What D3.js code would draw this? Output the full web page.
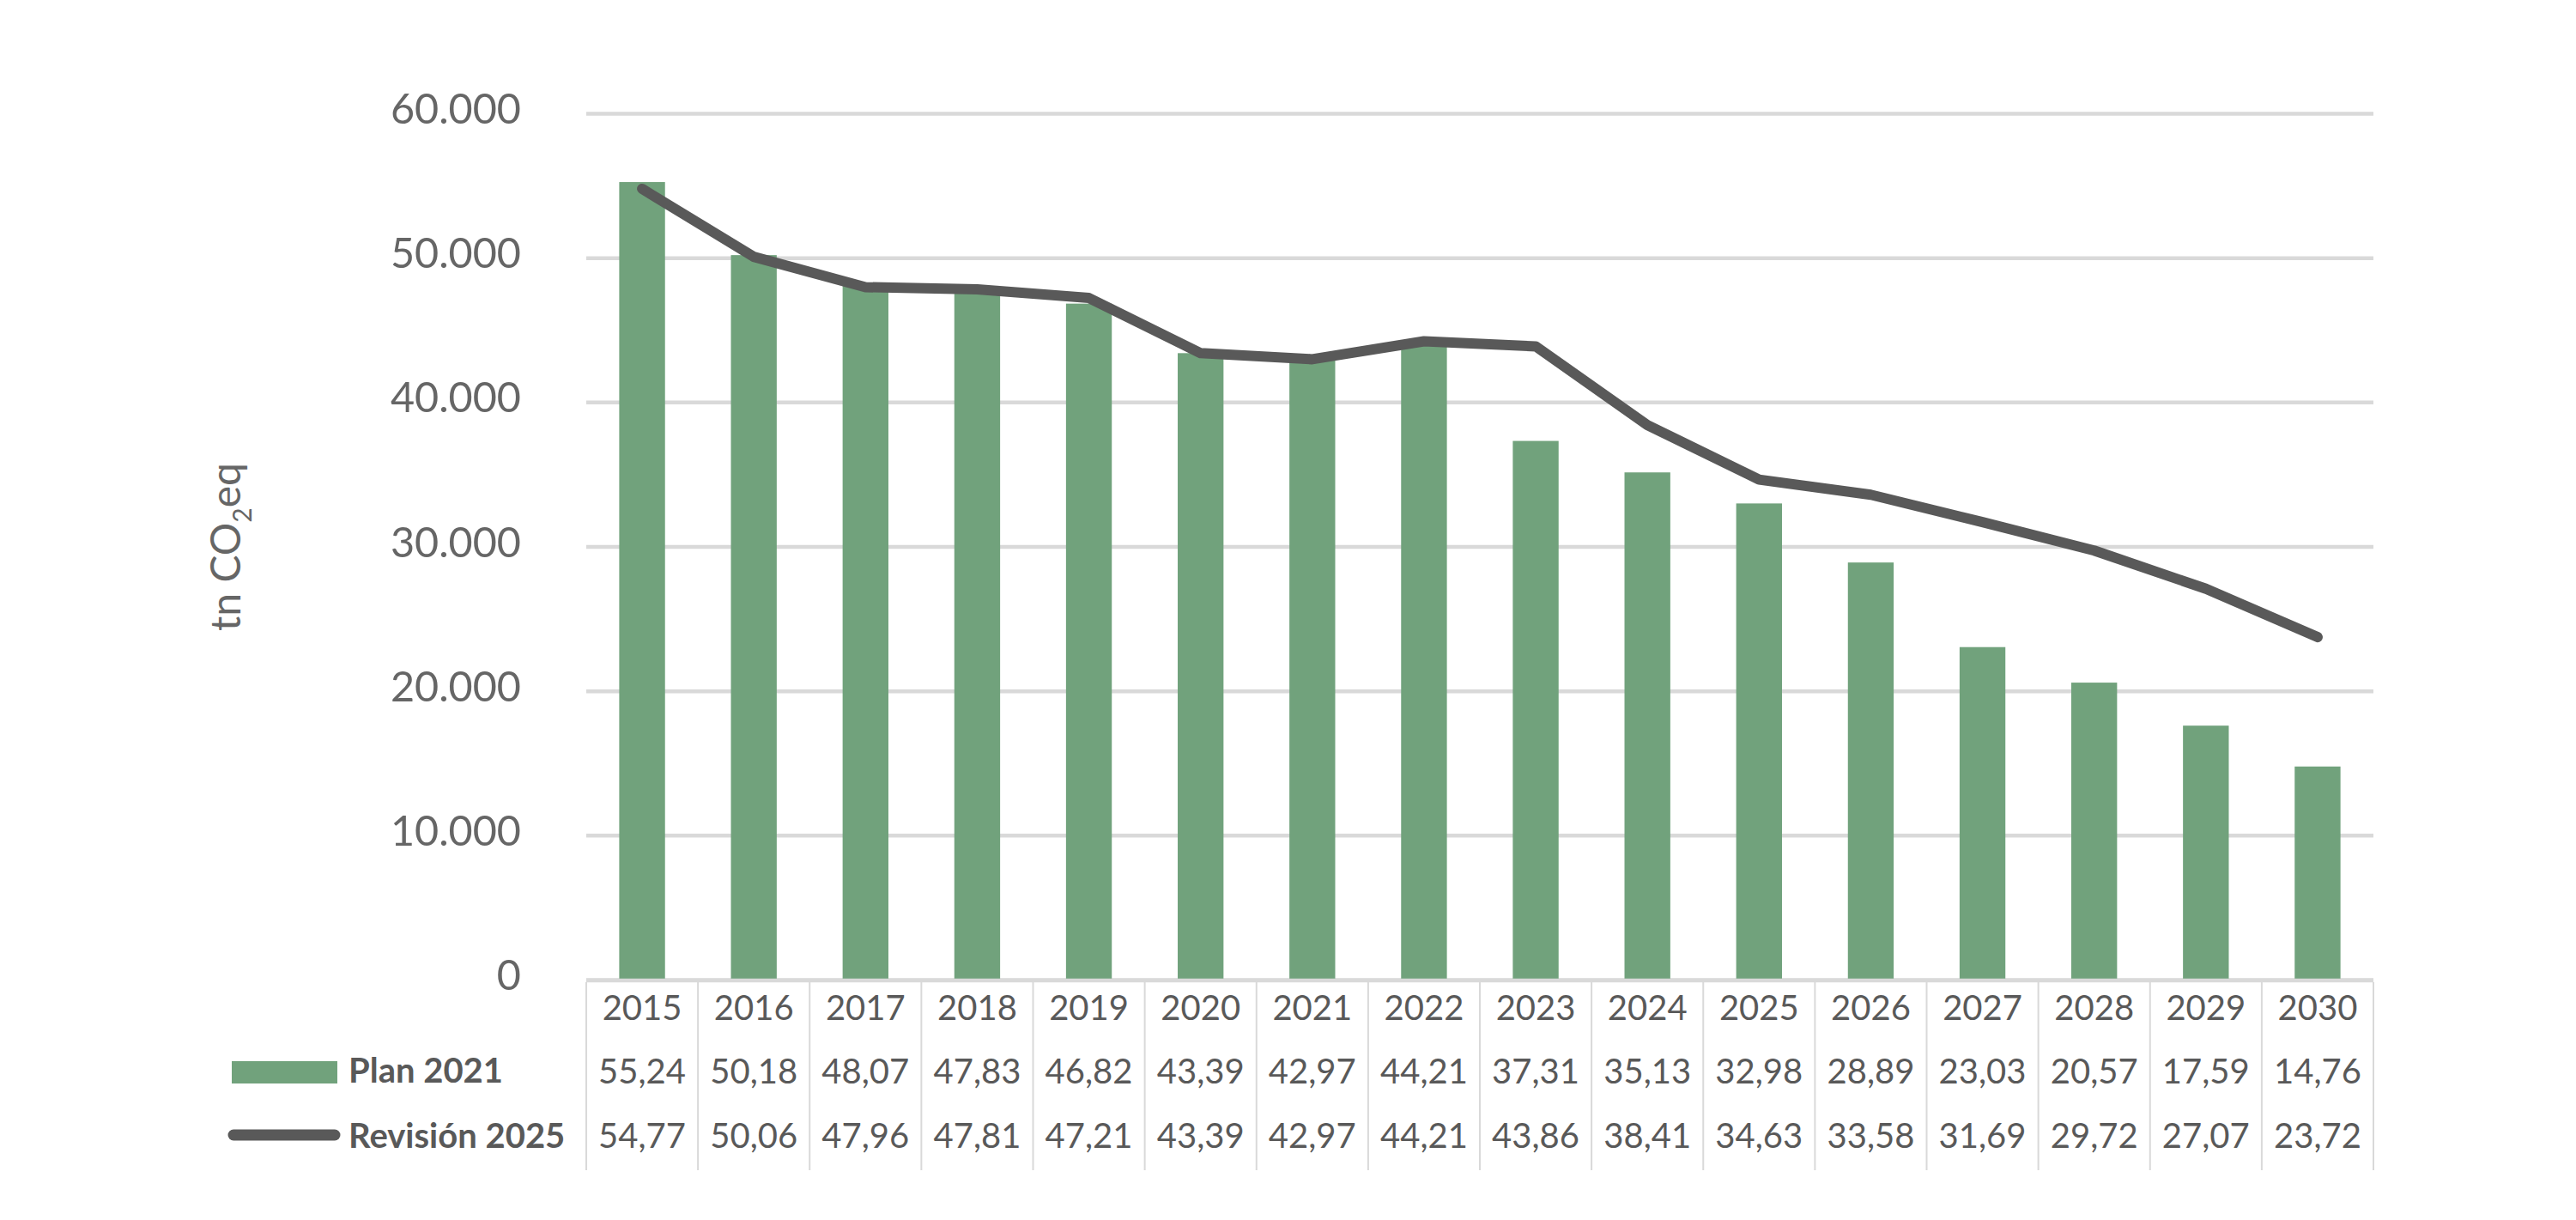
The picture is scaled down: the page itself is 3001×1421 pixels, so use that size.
<!DOCTYPE html>
<html>
<head>
<meta charset="utf-8">
<script src="https://cdn.jsdelivr.net/npm/d3@7"></script>
<style>
  body { margin: 0; background: #fff; }
  svg { display: block; font-family: Lato, "Open Sans", sans-serif; }
</style>
</head>
<body>
<div id="chart"></div>
<script>
// data (thousand tn CO2eq)
const years = ["2015","2016","2017","2018","2019","2020","2021","2022","2023","2024","2025","2026","2027","2028","2029","2030"];
const plan2021 = [55.24, 50.18, 48.07, 47.83, 46.82, 43.39, 42.97, 44.21, 37.31, 35.13, 32.98, 28.89, 23.03, 20.57, 17.59, 14.76];
const revision2025 = [54.77, 50.06, 47.96, 47.81, 47.21, 43.39, 42.97, 44.21, 43.86, 38.41, 34.63, 33.58, 31.69, 29.72, 27.07, 23.72];
const yTicks = [0, 10, 20, 30, 40, 50, 60];
const seriesNames = ["Plan 2021", "Revisión 2025"];

const width = 3001,
      height = 1421;
const plotLeft = 683, plotRight = 2765, plotTop = 132, plotZero = 1141;

const barColor = "#71a27c",
      lineColor = "#595959",
      gridColor = "#d9d9d9",
      textColor = "#595959";

const es = d3.formatLocale({decimal: ",", thousands: ".", grouping: [3], currency: ["", "€"]});
const fmtTick = es.format(",d");
const fmtVal = es.format(".2f");

const svg = d3.select("#chart")
  .append("svg")
    .attr("width", width)
    .attr("height", height)
    .attr("viewBox", `0 0 ${width} ${height}`);

// scales
const xCol = d3.scaleBand()
  .domain(years)
  .range([plotLeft, plotRight]);

const xBar = d3.scaleBand()
  .domain(years)
  .range([plotLeft, plotRight])
  .paddingInner(0.59)
  .paddingOuter(0.295);

const y = d3.scaleLinear()
  .domain([0, 60])
  .range([plotZero, plotTop]);

// y axis + gridlines
const yAxis = svg.append("g")
  .attr("transform", `translate(${plotLeft},0)`)
  .call(d3.axisLeft(y)
    .tickValues(yTicks)
    .tickSize(-(plotRight - plotLeft))
    .tickPadding(76)
    .tickFormat(d => fmtTick(d * 1000)));

yAxis.select(".domain").remove();
yAxis.selectAll(".tick line")
  .attr("stroke", gridColor)
  .attr("stroke-width", 4.5);
yAxis.selectAll(".tick text")
  .attr("fill", "#666")
  .attr("font-size", 48.5)
  .attr("font-family", "Lato, sans-serif")
  .attr("dy", "0.24em");

// bars
svg.append("g")
  .selectAll("rect")
  .data(plan2021)
  .join("rect")
    .attr("x", (d, i) => xBar(years[i]))
    .attr("width", xBar.bandwidth())
    .attr("y", d => y(d))
    .attr("height", d => y(0) - y(d))
    .attr("fill", barColor);

// axis line over bar bottoms
svg.append("line")
  .attr("x1", plotLeft).attr("x2", plotRight)
  .attr("y1", plotZero + 1).attr("y2", plotZero + 1)
  .attr("stroke", gridColor)
  .attr("stroke-width", 4.5);

// line
const line = d3.line()
  .x((d, i) => xCol(years[i]) + xCol.bandwidth() / 2)
  .y(d => y(d));

svg.append("path")
  .datum(revision2025)
  .attr("d", line)
  .attr("fill", "none")
  .attr("stroke", lineColor)
  .attr("stroke-width", 12)
  .attr("stroke-linecap", "round")
  .attr("stroke-linejoin", "round");

// data table
const tableBottom = 1363;
const table = svg.append("g");

table.selectAll("line.vert")
  .data(years.concat(["end"]))
  .join("line")
    .attr("class", "vert")
    .attr("x1", (d, i) => i < years.length ? xCol(d) : plotRight)
    .attr("x2", (d, i) => i < years.length ? xCol(d) : plotRight)
    .attr("y1", plotZero + 3)
    .attr("y2", tableBottom)
    .attr("stroke", gridColor)
    .attr("stroke-width", 2);

const rows = [
  {base: 1188, vals: years.map(d => d)},
  {base: 1262, vals: plan2021.map(fmtVal)},
  {base: 1337, vals: revision2025.map(fmtVal)}
];

rows.forEach(function(r) {
  table.append("g")
    .selectAll("text")
    .data(r.vals)
    .join("text")
      .attr("x", (d, i) => xCol(years[i]) + xCol.bandwidth() / 2)
      .attr("y", r.base)
      .attr("text-anchor", "middle")
      .attr("font-size", 40)
      .attr("fill", textColor)
      .text(d => d);
});

// legend
const legend = svg.append("g");
legend.append("rect")
  .attr("x", 270).attr("y", 1236)
  .attr("width", 123).attr("height", 26)
  .attr("fill", barColor);
legend.append("line")
  .attr("x1", 272).attr("x2", 390)
  .attr("y1", 1322).attr("y2", 1322)
  .attr("stroke", lineColor)
  .attr("stroke-width", 13)
  .attr("stroke-linecap", "round");
legend.selectAll("text")
  .data(seriesNames)
  .join("text")
    .attr("x", 406)
    .attr("y", (d, i) => i === 0 ? 1261 : 1337)
    .attr("font-size", 40)
    .attr("font-weight", "bold")
    .attr("fill", textColor)
    .text(d => d);

// y axis title
const title = svg.append("text")
  .attr("transform", "translate(280,637) rotate(-90)")
  .attr("text-anchor", "middle")
  .attr("font-size", 48)
  .attr("fill", "#666");
title.append("tspan").text("tn CO");
title.append("tspan").attr("font-size", 30).attr("dy", 13).text("2");
title.append("tspan").attr("dy", -13).text("eq");
</script>
</body>
</html>
